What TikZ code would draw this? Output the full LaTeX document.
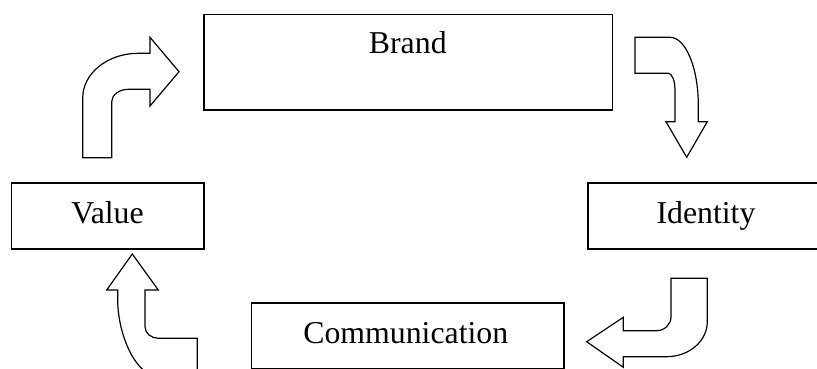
\documentclass[tikz,border=0pt]{standalone}
\usepackage{fontspec}
\setmainfont{Liberation Serif}
\begin{document}
\begin{tikzpicture}[x=1pt,y=-1pt,
  boxnode/.style={draw=black,line width=1.4pt,rectangle,inner sep=0pt,anchor=north west},
  lbl/.style={anchor=base,inner sep=0pt,font=\fontsize{31.8}{38}\selectfont},
  bentarrow/.style={draw=black,line width=1.2pt,fill=white,line join=miter}]
\useasboundingbox (0,0) rectangle (817,369);
\clip (0,0) rectangle (817,369);
% boxes
\node[boxnode,minimum width=408.4pt,minimum height=95.6pt] (brand) at (203.3,13.7) {};
\node[boxnode,minimum width=192.3pt,minimum height=66pt] (value) at (11,182.3) {};
\node[boxnode,minimum width=237.7pt,minimum height=66pt] (identity) at (587.3,182.3) {};
\node[boxnode,minimum width=312.3pt,minimum height=65.4pt] (comm) at (251,302.3) {};
% labels
\node[lbl] (brandtxt) at (407.8,53.3) {Brand};
\node[lbl] (valuetxt) at (107.5,223.3) {Value};
\node[lbl] (identitytxt) at (706,223.3) {Identity};
\node[lbl] (commtxt) at (405.8,343.3) {Communication};
% arrow 1: value -> brand
\draw[bentarrow] (82.7,157.7) -- (82.7,98) .. controls (82.7,73.3) and (107.6,53.3) .. (138.3,53.3)
  -- (150,53.3) -- (150,37.3) -- (179,71.7) -- (150,106) -- (150,89.3) -- (128.3,89.3)
  .. controls (119.1,89.3) and (111.7,94.9) .. (111.7,101.7) -- (111.7,157.7) -- cycle;
% arrow 2: brand -> identity
\draw[bentarrow] (635,37.3) -- (670,37.3) .. controls (685.6,37.3) and (698.3,67.6) .. (698.3,105)
  -- (698.3,121.7) -- (707.3,121.7) -- (686.7,157.3) -- (666,121.7) -- (675,121.7) -- (675,90)
  .. controls (675,80.8) and (672,73.3) .. (668.3,73.3) -- (635,73.3) -- cycle;
% arrow 3: identity -> communication
\draw[bentarrow] (671,278.3) -- (707.3,278.3) -- (707.3,321.7)
  .. controls (707.3,341) and (689.1,356.7) .. (666.7,356.7) -- (623.3,356.7) -- (623.3,367.3)
  -- (586.7,341.7) -- (623.3,317.3) -- (623.3,330.7) -- (656.7,330.7)
  .. controls (664.6,330.7) and (671,324.4) .. (671,316.7) -- cycle;
% arrow 4: communication -> value
\draw[bentarrow] (132.3,254) -- (158.3,290) -- (145,290) -- (145,326.7)
  .. controls (145,333.1) and (151,338.3) .. (158.3,338.3) -- (197.3,338.3) -- (197.3,376)
  -- (157.7,376) .. controls (135.6,376) and (117.7,334) .. (117.7,300) -- (117.7,290)
  -- (106.7,290) -- cycle;
\end{tikzpicture}
\end{document}
